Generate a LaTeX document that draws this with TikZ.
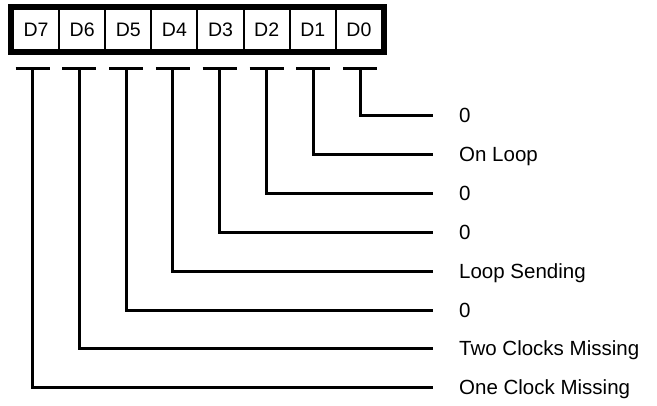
\documentclass[tikz,border=0pt]{standalone}
\usepackage{fontspec}
\setmainfont{Liberation Sans}
\usetikzlibrary{positioning}

\begin{document}
\begin{tikzpicture}[
    x=1pt, y=-1pt,
    bitcell/.style={
        draw,
        line width=2pt,
        outer sep=0pt,
        minimum width=46.125pt,
        minimum height=41pt,
        inner sep=0pt,
        font=\fontsize{19.5}{23}\selectfont
    },
    bitlabel/.style={
        anchor=west,
        inner sep=0pt,
        text height=14.7pt,
        text depth=0pt,
        font=\fontsize{20.5}{24}\selectfont
    },
    tickbar/.style={line width=3pt},
    lead/.style={line width=3pt, shorten >=26pt}
]
\useasboundingbox (0,0) rectangle (657,405);

% Register cells, left to right
\node[bitcell] (d7) at (36.06,29.5) {D7};
\node[bitcell, right=0pt of d7] (d6) {D6};
\node[bitcell, right=0pt of d6] (d5) {D5};
\node[bitcell, right=0pt of d5] (d4) {D4};
\node[bitcell, right=0pt of d4] (d3) {D3};
\node[bitcell, right=0pt of d3] (d2) {D2};
\node[bitcell, right=0pt of d2] (d1) {D1};
\node[bitcell, right=0pt of d1] (d0) {D0};

% Thick frame round the register
\draw[line width=5pt] ([shift={(-2.5,-2.5)}]d7.north west)
    rectangle ([shift={(2.5,2.5)}]d0.south east);

% Tick points under each bit
\coordinate (t7) at (32.5,68);
\coordinate (t6) at (79.3,68);
\coordinate (t5) at (126.1,68);
\coordinate (t4) at (172.9,68);
\coordinate (t3) at (219.7,68);
\coordinate (t2) at (266.5,68);
\coordinate (t1) at (313.3,68);
\coordinate (t0) at (360.1,68);

\draw[tickbar] ([xshift=-17pt]t7) -- ([xshift=17pt]t7);
\draw[tickbar] ([xshift=-17pt]t6) -- ([xshift=17pt]t6);
\draw[tickbar] ([xshift=-17pt]t5) -- ([xshift=17pt]t5);
\draw[tickbar] ([xshift=-17pt]t4) -- ([xshift=17pt]t4);
\draw[tickbar] ([xshift=-17pt]t3) -- ([xshift=17pt]t3);
\draw[tickbar] ([xshift=-17pt]t2) -- ([xshift=17pt]t2);
\draw[tickbar] ([xshift=-17pt]t1) -- ([xshift=17pt]t1);
\draw[tickbar] ([xshift=-17pt]t0) -- ([xshift=17pt]t0);

% Bit meanings
\node[bitlabel] (l0) at (459,115)   {0};
\node[bitlabel] (l1) at (459,154)   {On Loop};
\node[bitlabel] (l2) at (459,193)   {0};
\node[bitlabel] (l3) at (459,232)   {0};
\node[bitlabel] (l4) at (459,271)   {Loop Sending};
\node[bitlabel] (l5) at (459,310)   {0};
\node[bitlabel] (l6) at (459,348.5) {Two Clocks Missing};
\node[bitlabel] (l7) at (459,387)   {One Clock Missing};

% Leads from bits to meanings
\draw[lead] (t0) |- (l0.west);
\draw[lead] (t1) |- (l1.west);
\draw[lead] (t2) |- (l2.west);
\draw[lead] (t3) |- (l3.west);
\draw[lead] (t4) |- (l4.west);
\draw[lead] (t5) |- (l5.west);
\draw[lead] (t6) |- (l6.west);
\draw[lead] (t7) |- (l7.west);

\end{tikzpicture}
\end{document}
